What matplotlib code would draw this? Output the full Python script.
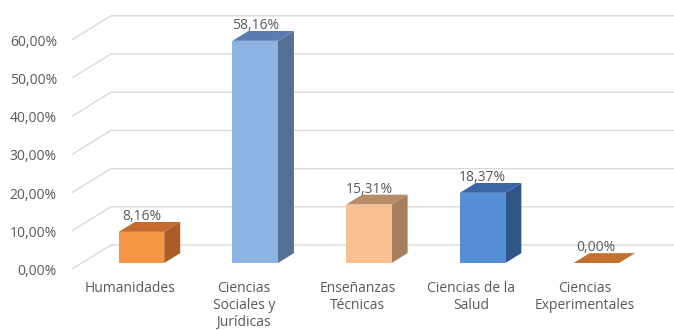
import matplotlib
matplotlib.use("Agg")
import matplotlib.pyplot as plt
from matplotlib.patches import Polygon

# Data
categories = ["Humanidades", "Ciencias\nSociales y\nJurídicas", "Enseñanzas\nTécnicas",
              "Ciencias de la\nSalud", "Ciencias\nExperimentales"]
values = [8.16, 58.16, 15.31, 18.37, 0.00]
value_labels = ["8,16%", "58,16%", "15,31%", "18,37%", "0,00%"]
yticks = [0, 10, 20, 30, 40, 50, 60]
ytick_labels = ["0,00%", "10,00%", "20,00%", "30,00%", "40,00%", "50,00%", "60,00%"]

# Face colours per bar: (front, top, side)
face_colors = [
    ("#F79646", "#C46B2D", "#A95D27"),
    ("#8DB3E2", "#5A7CB0", "#566F93"),
    ("#FAC090", "#B98C67", "#A57F5E"),
    ("#558ED5", "#3C66A3", "#2F5589"),
    ("#F79646", "#C5712E", "#A95D27"),
]

W, H, DPI = 674, 330, 100
PX_CAT = 113.7      # pixels per category step
PX_PCT = 3.82       # pixels per percent
X0_PX = 141.5       # pixel x of first category centre
Y0_PX = 263.0       # pixel y (from top) of the bar base

fig = plt.figure(figsize=(W / DPI, H / DPI), dpi=DPI)
ax = fig.add_axes([0, 0, 1, 1])
ax.set_xlim(-X0_PX / PX_CAT, (W - X0_PX) / PX_CAT)
ax.set_ylim((Y0_PX - H) / PX_PCT, Y0_PX / PX_PCT)
ax.axis("off")

# Oblique depth direction (full depth of the plot box), in data units
DX = 39 / PX_CAT
DY = 24 / PX_PCT
D_FRONT, D_BACK = 0.25, 0.66   # bar front / back depth
HALF = 0.2                     # half bar width in category units


def P(x, y, d):
    return (x + DX * (d - D_FRONT), y + DY * (d - D_FRONT))


grid_c = "#D9D9D9"
text_c = "#595959"
font = "Open Sans"
FS = 10

XL = (111 - X0_PX) / PX_CAT - DX * (1 - D_FRONT)
XR = ax.get_xlim()[1] + 1

for v, lab in zip(yticks, ytick_labels):
    a = P(XL, v, 0)
    b = P(XL, v, 1)
    c = P(XR, v, 1)
    ax.plot([a[0], b[0], c[0]], [a[1], b[1], c[1]], color=grid_c, lw=1.0,
            solid_capstyle="butt", zorder=1)
    ax.text(a[0] - 15 / PX_CAT, a[1] - 2.5 / PX_PCT, lab, ha="right", va="center",
            fontsize=FS, color=text_c, family=font)

for i, (v, (cf, ct, cs)) in enumerate(zip(values, face_colors)):
    x1, x2 = i - HALF, i + HALF
    front = [P(x1, 0, D_FRONT), P(x2, 0, D_FRONT), P(x2, v, D_FRONT), P(x1, v, D_FRONT)]
    top = [P(x1, v, D_FRONT), P(x2, v, D_FRONT), P(x2, v, D_BACK), P(x1, v, D_BACK)]
    side = [P(x2, 0, D_FRONT), P(x2, 0, D_BACK), P(x2, v, D_BACK), P(x2, v, D_FRONT)]
    for pts, col in ((side, cs), (front, cf), (top, ct)):
        ax.add_patch(Polygon(pts, closed=True, facecolor=col, edgecolor="none", zorder=3))
    lx, ly = P(i, v, D_BACK)
    ax.text(i, ly + 5.5 / PX_PCT, value_labels[i], ha="center", va="center",
            fontsize=FS, color=text_c, family=font, zorder=5)
    ax.text(i - 11.5 / PX_CAT, (Y0_PX - 281) / PX_PCT, categories[i], ha="center",
            va="top", fontsize=FS, color=text_c, family=font, linespacing=1.2)

fig.savefig("out.png", dpi=DPI)
